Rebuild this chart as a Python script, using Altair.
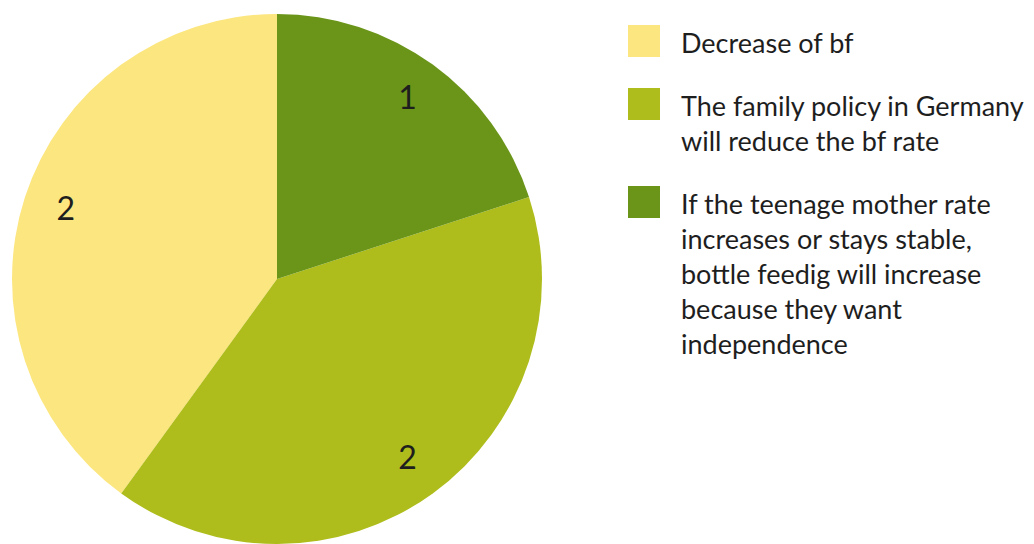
import altair as alt
import pandas as pd

# ---- data ----
categories = [
    "Decrease of bf",
    "The family policy in Germany will reduce the bf rate",
    "If the teenage mother rate increases or stays stable, bottle feedig will increase because they want independence",
]
values = [2, 2, 1]
colors = ["#FCE67F", "#AEBD1B", "#6A9519"]
clockwise_order = [3, 2, 1]  # position of each slice, clockwise from 12 o'clock
legend_lines = [
    ["Decrease of bf"],
    ["The family policy in Germany", "will reduce the bf rate"],
    ["If the teenage mother rate", "increases or stays stable,",
     "bottle feedig will increase", "because they want", "independence"],
]

FONT = "Lato"
TEXT_COLOR = "#1e1e1e"

pie_df = pd.DataFrame({"category": categories, "value": values, "order": clockwise_order})

color_scale = alt.Scale(domain=categories, range=colors)
base = alt.Chart(pie_df).encode(
    theta=alt.Theta("value:Q", stack=True),
    order=alt.Order("order:Q", sort="ascending"),
)
arcs = base.mark_arc(radius=265, stroke=None).encode(
    color=alt.Color("category:N", scale=color_scale, legend=None)
)
labels = base.mark_text(radius=222, fontSize=32, font=FONT, color=TEXT_COLOR).encode(
    text=alt.Text("value:Q")
)
pie = alt.layer(arcs, labels).properties(width=530, height=530)

# ---- hand-made legend (line positions in units of one text line) ----
LINE = 35.0
PANEL_H = 530
first_offset = 0.86
gap = 0.8
sq_rows, txt_rows = [], []
lines_before = 0
for i, (cat, lines) in enumerate(zip(categories, legend_lines)):
    p0 = first_offset + lines_before + i * gap
    sq_rows.append({"category": cat, "pos": p0})
    for j, ln in enumerate(lines):
        txt_rows.append({"line": ln, "pos": p0 + j})
    lines_before += len(lines)

ypos = alt.Y("pos:Q", scale=alt.Scale(domain=[0, PANEL_H / LINE], reverse=True, nice=False, zero=False), axis=None)

squares = alt.Chart(pd.DataFrame(sq_rows)).mark_square(
    size=32 * 32, opacity=1, filled=True, yOffset=-3
).encode(
    x=alt.value(24),
    y=ypos,
    color=alt.Color("category:N", scale=color_scale, legend=None),
)
texts = alt.Chart(pd.DataFrame(txt_rows)).mark_text(
    align="left", baseline="middle", fontSize=27, font=FONT, color=TEXT_COLOR, dy=1
).encode(
    x=alt.value(61),
    y=ypos,
    text="line:N",
)
legend = alt.layer(squares, texts).properties(width=400, height=PANEL_H)

chart = alt.hconcat(pie, legend, spacing=78).properties(
    padding={"left": 4, "top": 6, "right": 0, "bottom": 0}
).configure(background="white").configure_view(stroke="transparent", strokeWidth=0)

chart.save("out.html", embed_options={"renderer": "svg", "actions": False})
